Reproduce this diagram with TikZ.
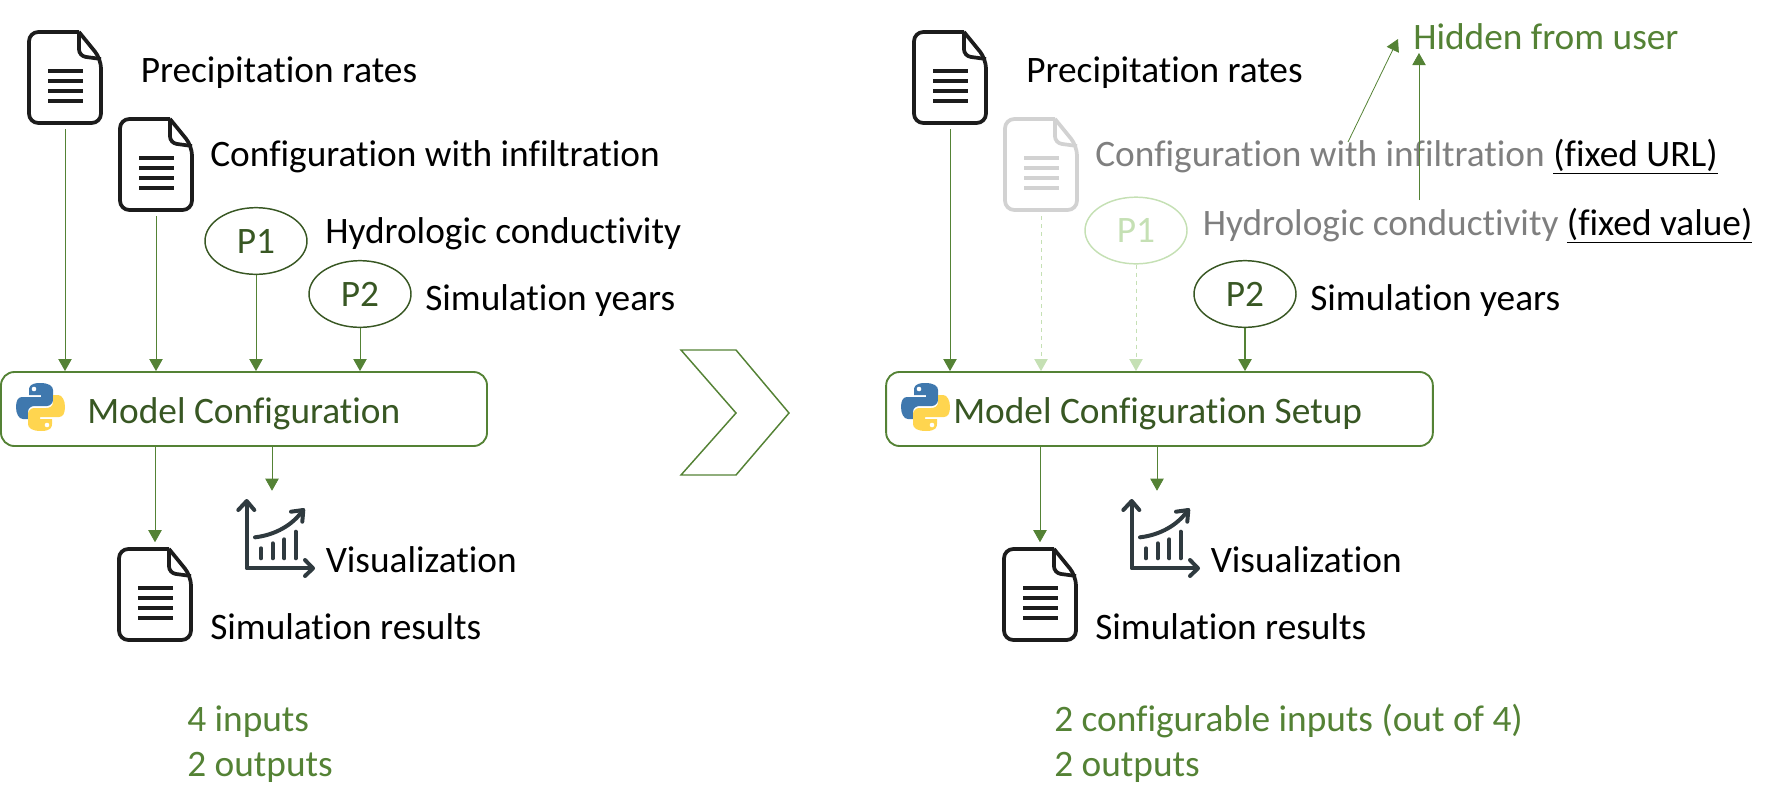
\documentclass[tikz,border=0pt]{standalone}
\usepackage{fontspec}
\setmainfont{Carlito}[Ligatures=NoCommon]
\usepackage{tikz}
\usetikzlibrary{arrows.meta, shapes.geometric}
\definecolor{mygreen}{HTML}{548235}
\definecolor{mydarkgreen}{HTML}{385723}
\definecolor{mylightgreen}{HTML}{C5E0B4}
\definecolor{mygray}{HTML}{7F7F7F}
\definecolor{myfilegray}{HTML}{D2D2D2}
\definecolor{myink}{HTML}{1C1C1C}
\definecolor{mychart}{HTML}{2F3A3F}
\definecolor{mypyblue}{HTML}{3F78AE}
\definecolor{mypyyellow}{HTML}{FFD54F}

\tikzset{
  label/.style={anchor=base west, inner sep=0pt, xshift=-0.75pt, yshift=-1.5pt, font=\fontsize{28}{34}\selectfont},
  param/.style={draw, ellipse, line width=1.1pt, minimum width=76.5pt, minimum height=50pt, inner sep=0pt, font=\fontsize{28}{34}\selectfont, text=mydarkgreen},
  modelbox/.style={draw=mygreen, line width=1.4pt, rounded corners=10pt, minimum height=55.5pt, inner sep=0pt},
  link/.style={-{Triangle[length=9pt,width=10pt]}, mygreen, line width=0.6pt},
  hiddenlink/.style={-{Triangle[length=9pt,width=10pt]}, mylightgreen, line width=0.6pt, dashed},
  iconbox/.style={inner sep=0pt, minimum width=54pt, minimum height=68pt}
}

% file icon: name, left, top, colour
\newcommand{\fileicon}[4]{
  \node (#1) at ({#2+36},{#3+45.5}) [iconbox] {};
  \begin{scope}[shift={(#2,#3)}, #4, line width=2.8pt]
    \draw[rounded corners=7pt] (50,0) -- (0,0) -- (0,91) -- (72,91) -- (72,27) -- (50,0);
    \draw[rounded corners=5pt] (50,0) -- (50,24) -- (72,27);
    \foreach \ybar in {39,49,59,69}
      \draw[line width=3.4pt] (19,\ybar) -- (54,\ybar);
  \end{scope}
}

% chart icon: name, left, top
\newcommand{\charticon}[3]{
  \node (#1) at ({#2+47},{#3+59}) [inner sep=0pt, minimum width=60pt, minimum height=58pt] {};
  \begin{scope}[shift={(#2,#3)}, mychart, line width=3pt, line cap=round, line join=round]
    \draw (21.7,22) -- (21.7,88.3) -- (87,88.3);
    \draw (13.3,30) -- (21.7,21) -- (29.3,30);
    \draw (80,80) -- (88,88.3) -- (80,96);
    \draw (30,57.3) .. controls (50,55) and (68,45) .. (78,30);
    \draw (66,31.7) -- (78.3,30) -- (77.3,41.7);
    \foreach \xbar/\ytop in {36/68.3,47.7/63.3,59.3/59.3,70.7/51.7}
      \draw (\xbar,\ytop) -- (\xbar,78.3);
  \end{scope}
}

% python logo: left, top
\newcommand{\pylogo}[2]{
  \begin{scope}[shift={(#1,#2)}]
    \fill[mypyblue] (24,0) .. controls (14,0) and (13,4) .. (13,7) -- (13,12) -- (25,12) -- (25,14) -- (6,14) .. controls (2,14) and (0,18) .. (0,24) .. controls (0,31) and (3,36) .. (7,36) -- (12,36) -- (12,29) .. controls (12,25) and (15,23) .. (19,23) -- (31,23) .. controls (34,23) and (37,20) .. (37,17) -- (37,7) .. controls (37,3) and (33,0) .. (24,0) -- cycle;
    \fill[mypyyellow] (25,48) .. controls (35,48) and (36,44) .. (36,41) -- (36,36) -- (24,36) -- (24,34) -- (43,34) .. controls (47,34) and (49,30) .. (49,24) .. controls (49,17) and (46,12) .. (42,12) -- (37,12) -- (37,19) .. controls (37,23) and (34,25) .. (30,25) -- (18,25) .. controls (15,25) and (12,28) .. (12,31) -- (12,41) .. controls (12,45) and (16,48) .. (25,48) -- cycle;
    \fill[white] (18,6) circle (2.3) (31,42) circle (2.3);
  \end{scope}
}

\begin{document}
\begin{tikzpicture}[x=0.75pt, y=-0.75pt]
  \useasboundingbox (0,0) rectangle (1778,808);

  % Left: model
  \fileicon{precipA}{29}{32}{myink}
  \fileicon{configA}{120}{119}{myink}
  \node (paramoneA) at (256,241) [param, draw=mydarkgreen] {P1};
  \node (paramtwoA) at (360,294) [param, draw=mydarkgreen] {P2};
  \node (modelA) at (244,409) [modelbox, minimum width=364.5pt] {};
  \pylogo{16}{383}
  \node (modeltxtA) at (88,421) [label, text=mydarkgreen] {Model Configuration};

  \node (precipnameA) at (141.5,80) [label] {Precipitation rates};
  \node (confignameA) at (211,164) [label] {Configuration with infiltration};
  \node (paramonenameA) at (326,241) [label] {Hydrologic conductivity};
  \node (paramtwonameA) at (426,308) [label] {Simulation years};

  % Left: outputs
  \fileicon{resultA}{119}{549}{myink}
  \charticon{chartA}{225}{480}
  \node (chartnameA) at (326.5,570) [label] {Visualization};
  \node (resultnameA) at (211,637) [label] {Simulation results};
  \node (inputsA) at (188,729) [label, text=mygreen] {4 inputs};
  \node (outputsA) at (188,774) [label, text=mygreen] {2 outputs};

  % Left: arrows
  \draw[link, shorten <=4.5pt] (precipA.south) -- (precipA.south |- modelA.north);
  \draw[link, shorten <=4.5pt] (configA.south) -- (configA.south |- modelA.north);
  \draw[link] (paramoneA.south) -- (paramoneA.south |- modelA.north);
  \draw[link] (paramtwoA.south) -- (paramtwoA.south |- modelA.north);
  \draw[link, shorten >=5pt] (resultA.north |- modelA.south) -- (resultA.north);
  \draw[link, shorten >=7pt] (chartA.north |- modelA.south) -- (chartA.north);

  % Chevron
  \draw[mygreen, line width=1.1pt] (681,350) -- (736,350) -- (789,413) -- (736,475) -- (681,475) -- (736,413) -- cycle;

  % Right: model setup
  \fileicon{precipB}{914}{32}{myink}
  \fileicon{configB}{1005}{119}{myfilegray}
  \node (paramoneB) at (1136,230.5) [param, draw=mylightgreen, text=mylightgreen] {P1};
  \node (paramtwoB) at (1245,294) [param, draw=mydarkgreen] {P2};
  \node (modelB) at (1159.5,409) [modelbox, minimum width=410pt] {};
  \pylogo{901}{383}
  \node (modeltxtB) at (954,421) [label, text=mydarkgreen] {Model Configuration Setup};

  \node (precipnameB) at (1027,80) [label] {Precipitation rates};
  \node (confignameB) at (1096,164) [label, text=mygray] {Configuration with infiltration {\color{black}\underline{(fixed URL)}}};
  \node (paramonenameB) at (1203.5,233) [label, text=mygray] {Hydrologic conductivity {\color{black}\underline{(fixed value)}}};
  \node (paramtwonameB) at (1311,308) [label] {Simulation years};
  \node (hiddenname) at (1414,47) [label, text=mygreen] {Hidden from user};

  % Right: outputs
  \fileicon{resultB}{1004}{549}{myink}
  \charticon{chartB}{1110}{480}
  \node (chartnameB) at (1211.5,570) [label] {Visualization};
  \node (resultnameB) at (1096,637) [label] {Simulation results};
  \node (inputsB) at (1055,729) [label, text=mygreen] {2 configurable inputs (out of 4)};
  \node (outputsB) at (1055,774) [label, text=mygreen] {2 outputs};

  % Right: arrows
  \draw[link, shorten <=4.5pt] (precipB.south) -- (precipB.south |- modelB.north);
  \draw[hiddenlink, shorten <=4.5pt] (configB.south) -- (configB.south |- modelB.north);
  \draw[hiddenlink] (paramoneB.south) -- (paramoneB.south |- modelB.north);
  \draw[link, line width=1pt] (paramtwoB.south) -- (paramtwoB.south |- modelB.north);
  \draw[link, shorten >=5pt] (resultB.north |- modelB.south) -- (resultB.north);
  \draw[link, shorten >=7pt] (chartB.north |- modelB.south) -- (chartB.north);

  % Hidden arrows
  \coordinate (hidefrom) at (1348,142);
  \coordinate (hideto) at (1398,39);
  \coordinate (hidevaluefrom) at (1419,200);
  \coordinate (hidevalueto) at (1419,53);
  \draw[link] (hidefrom) -- (hideto);
  \draw[link] (hidevaluefrom) -- (hidevalueto);
\end{tikzpicture}
\end{document}
